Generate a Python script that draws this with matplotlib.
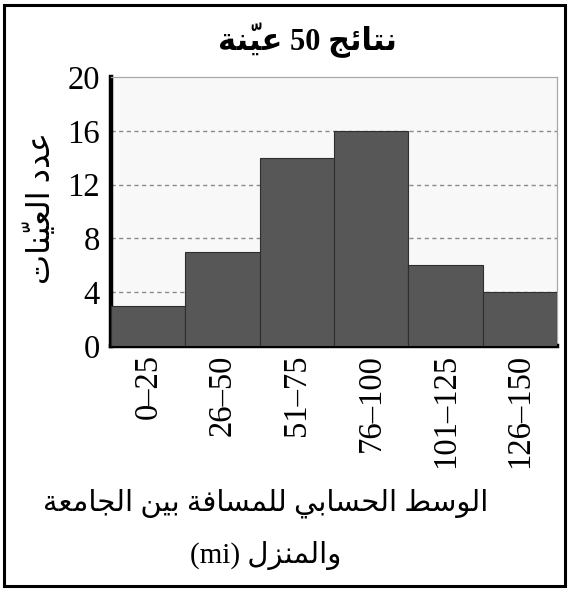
import matplotlib
matplotlib.use("Agg")
import matplotlib.pyplot as plt
from matplotlib.patches import Rectangle

# samples per distance class
bins = ["0–25", "26–50", "51–75", "76–100", "101–125", "126–150"]
counts = [3, 7, 14, 16, 6, 4]
yticks = [0, 4, 8, 12, 16, 20]

title = "نتائج 50 عيّنة"
ylabel = "عدد العيّنات"
xlabel_1 = "الوسط الحسابي للمسافة بين الجامعة"
xlabel_2 = "والمنزل (mi)"

# presentation forms: (isolated, final, initial, medial); two-tuple = joins right only
FORMS = {
    "ا": (0xFE8D, 0xFE8E), "ب": (0xFE8F, 0xFE90, 0xFE91, 0xFE92),
    "ة": (0xFE93, 0xFE94), "ت": (0xFE95, 0xFE96, 0xFE97, 0xFE98),
    "ج": (0xFE9D, 0xFE9E, 0xFE9F, 0xFEA0), "ح": (0xFEA1, 0xFEA2, 0xFEA3, 0xFEA4),
    "د": (0xFEA9, 0xFEAA), "ز": (0xFEAF, 0xFEB0),
    "س": (0xFEB1, 0xFEB2, 0xFEB3, 0xFEB4), "ط": (0xFEC1, 0xFEC2, 0xFEC3, 0xFEC4),
    "ع": (0xFEC9, 0xFECA, 0xFECB, 0xFECC), "ف": (0xFED1, 0xFED2, 0xFED3, 0xFED4),
    "ل": (0xFEDD, 0xFEDE, 0xFEDF, 0xFEE0), "م": (0xFEE1, 0xFEE2, 0xFEE3, 0xFEE4),
    "ن": (0xFEE5, 0xFEE6, 0xFEE7, 0xFEE8), "و": (0xFEED, 0xFEEE),
    "ي": (0xFEF1, 0xFEF2, 0xFEF3, 0xFEF4), "ئ": (0xFE89, 0xFE8A, 0xFE8B, 0xFE8C),
}
MARKS = {"\u0651"}


def shape_word(word):
    if not any(c in FORMS for c in word):
        return word
    # clusters of base letter + following marks
    clusters = []
    for c in word:
        if c in MARKS and clusters:
            clusters[-1] += c
        else:
            clusters.append(c)
    out = []
    for i, cl in enumerate(clusters):
        base, marks = cl[0], cl[1:]
        f = FORMS.get(base)
        if f is None:
            out.append(cl)
            continue
        prev = clusters[i - 1][0] if i > 0 else None
        nxt = clusters[i + 1][0] if i + 1 < len(clusters) else None
        join_prev = prev in FORMS and len(FORMS[prev]) == 4
        join_next = len(f) == 4 and nxt in FORMS
        if join_prev and join_next:
            g = f[3]
        elif join_prev:
            g = f[1]
        elif join_next:
            g = f[2]
        else:
            g = f[0]
        # mark glyphs sit to the right of the pen, so emit them before the base
        out.append(marks + chr(g))
    return "".join(reversed(out))


def ar(text):
    return " ".join(shape_word(w) for w in reversed(text.split(" ")))


FAM = ["Liberation Serif", "DejaVu Sans"]
plt.rcParams["font.family"] = FAM

fig = plt.figure(figsize=(5.69, 5.90), dpi=100)
ax = fig.add_axes([0.195, 0.4136, 0.784, 0.4559])
ax.set_facecolor("#f8f8f8")

x = list(range(len(counts)))
ax.bar(x, counts, width=1.0, align="edge", color="#575757",
       edgecolor="#2e2e2e", linewidth=0.8, zorder=3)

ax.set_xlim(0, len(counts))
ax.set_ylim(0, 20)
ax.set_yticks(yticks)
ax.set_yticklabels([str(v) for v in yticks], fontsize=23.5)
ax.set_xticks([i + 0.5 for i in x])
ax.set_xticklabels(bins, rotation=90, fontsize=23.5, va="top")
ax.tick_params(axis="y", length=0, pad=8)
ax.tick_params(axis="x", length=0, pad=6)

for v in yticks[1:-1]:
    ax.axhline(v, color="#8a8a8a", lw=1.0, ls=(0, (3, 2.5)), zorder=1)

for s in ("left", "bottom"):
    ax.spines[s].set_linewidth(3.2)
    ax.spines[s].set_color("black")
for s in ("top", "right"):
    ax.spines[s].set_linewidth(0.9)
    ax.spines[s].set_color("#a8a8a8")

fig.text(307 / 569, 1 - 40 / 590, ar(title), ha="center", va="center",
         fontsize=22, fontweight="bold")
fig.text(41 / 569, 1 - 208 / 590, ar(ylabel), ha="center", va="center",
         rotation=90, fontsize=23)
fig.text(266 / 569, 1 - 503 / 590, ar(xlabel_1), ha="center", va="center",
         fontsize=21)
fig.text(266 / 569, 1 - 555 / 590, ar(xlabel_2), ha="center", va="center",
         fontsize=21)

# outer frame
fig.add_artist(Rectangle((4 / 569, 4 / 590), 1 - 8 / 569, 1 - 9 / 590,
                         transform=fig.transFigure, fill=False,
                         edgecolor="black", linewidth=2.2))

fig.savefig("out.png", dpi=100)
